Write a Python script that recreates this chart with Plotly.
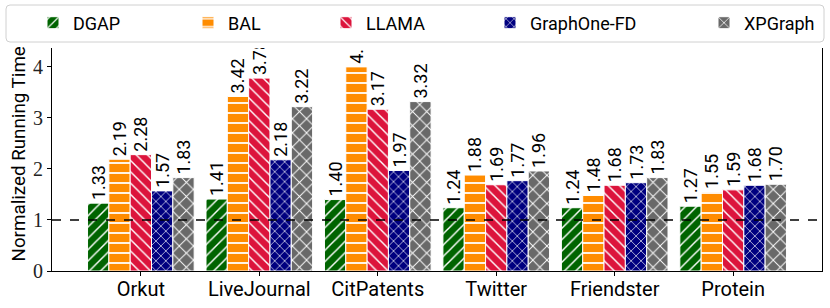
import plotly.graph_objects as go

# ---------------- data ----------------
categories = ["Orkut", "LiveJournal", "CitPatents", "Twitter", "Friendster", "Protein"]
series_names = ["DGAP", "BAL", "LLAMA", "GraphOne-FD", "XPGraph"]
dgap = [1.33, 1.41, 1.40, 1.24, 1.24, 1.27]
bal = [2.19, 3.42, 4.00, 1.88, 1.48, 1.55]
llama = [2.28, 3.78, 3.17, 1.69, 1.68, 1.59]
graphone_fd = [1.57, 2.18, 1.97, 1.77, 1.73, 1.68]
xpgraph = [1.83, 3.22, 3.32, 1.96, 1.83, 1.70]
baseline = 1.0
y_ticks = [0, 1, 2, 3, 4]
y_title = "Normalized Running Time"

# ---------------- style ----------------
W, H = 830, 308
L, R, T, B = 52, 8, 48, 37
colors = ["#006400", "#FF8C00", "#DC143C", "#000080", "#696969"]
hatches = ["/", "-", "\\", "x", "x"]
hatch_sizes = [8, 10, 8, 7, 10]
legend_text_px = [73, 228, 366, 530, 744]
SANS = "Roboto"
SERIF = "Liberation Serif"

series_values = [dgap, bal, llama, graphone_fd, xpgraph]

pw = W - L - R
ph = H - T - B


def px_x(px):
    return (px - L) / pw


def px_y(py):
    return (H - B - py) / ph


fig = go.Figure()
for i, (name, vals) in enumerate(zip(series_names, series_values)):
    lg = "legend" if i == 0 else f"legend{i+1}"
    fig.add_trace(go.Bar(
        x=categories, y=vals, name=name,
        text=[f"{v:.2f}" for v in vals],
        textposition="outside", textangle=-90, cliponaxis=True,
        constraintext="none",
        textfont=dict(family=SANS, size=18, color="black"),
        marker=dict(color=colors[i],
                    line=dict(color="white", width=1),
                    pattern=dict(shape=hatches[i], fgcolor="white", bgcolor=colors[i],
                                 size=hatch_sizes[i], solidity=0.18, fillmode="replace")),
        legend=lg,
    ))

fig.add_hline(y=baseline, line=dict(color="black", width=1.5, dash="dash"))

# legend frame (rounded rectangle) drawn as a shape, under the legends
x0, x1 = px_x(6), px_x(824)
y0, y1 = px_y(42), px_y(5)
rx, ry = 4 / pw, 4 / ph
frame_path = (
    f"M {x0+rx},{y0} L {x1-rx},{y0} Q {x1},{y0} {x1},{y0+ry} "
    f"L {x1},{y1-ry} Q {x1},{y1} {x1-rx},{y1} "
    f"L {x0+rx},{y1} Q {x0},{y1} {x0},{y1-ry} "
    f"L {x0},{y0+ry} Q {x0},{y0} {x0+rx},{y0} Z"
)
fig.add_shape(type="path", path=frame_path, xref="paper", yref="paper",
              fillcolor="white", line=dict(color="#d0d0d0", width=1), layer="above")

# y-axis title
fig.add_annotation(text=y_title, xref="paper", yref="paper", x=px_x(18), y=px_y(264),
                   xanchor="center", yanchor="bottom", textangle=-90, showarrow=False,
                   font=dict(family=SANS, size=18.8, color="black"))

legend_common = dict(orientation="h", bgcolor="rgba(0,0,0,0)", borderwidth=0,
                     font=dict(family=SANS, size=18, color="black"),
                     xref="container", yref="container", yanchor="middle", xanchor="left",
                     y=1 - 23 / H)
layout_legends = {}
for i, tx in enumerate(legend_text_px):
    key = "legend" if i == 0 else f"legend{i+1}"
    layout_legends[key] = dict(legend_common, x=(tx - 40) / W)

fig.update_layout(
    width=W, height=H,
    margin=dict(l=L, r=R, t=T, b=B, autoexpand=False),
    paper_bgcolor="white", plot_bgcolor="white",
    barmode="group", bargap=0.1, bargroupgap=0,
    showlegend=True,
    **layout_legends,
)
fig.update_xaxes(range=[-0.75, 5.75], showline=True, linecolor="black", linewidth=1,
                 ticks="outside", ticklen=4, tickcolor="black", showgrid=False,
                 ticklabelstandoff=-4,
                 tickfont=dict(family=SANS, size=20, color="black"))
fig.update_yaxes(range=[0, 4.37], tickvals=y_ticks, showline=True, linecolor="black",
                 linewidth=1, mirror=True, ticks="outside", ticklen=4, tickcolor="black",
                 showgrid=False, zeroline=False,
                 tickfont=dict(family=SERIF, size=20, color="#222"))

fig.write_html("out.html",
               config={"displayModeBar": False},
               post_script="document.body.style.margin='0px';document.body.style.overflow='hidden';")
